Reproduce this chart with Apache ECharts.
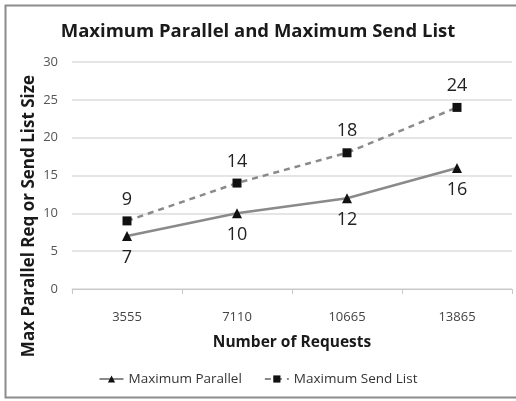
<!DOCTYPE html>
<html>
<head>
<meta charset="utf-8">
<script src="https://cdn.jsdelivr.net/npm/echarts@6/dist/echarts.min.js"></script>
<style>
  html, body { margin: 0; padding: 0; background: #fff; }
  #chart { width: 516px; height: 401px; }
</style>
</head>
<body>
<div id="chart"></div>
<script>
// Request counts on the x axis and the two measured series
const categories = ['3555', '7110', '10665', '13865'];
const maxParallel = [7, 10, 12, 16];
const maxSendList = [9, 14, 18, 24];
const yTicks = { min: 0, max: 30, interval: 5 };

const FONT = '"Open Sans", "Liberation Sans", sans-serif';

const chart = echarts.init(document.getElementById('chart'), null, { renderer: 'canvas' });

chart.setOption({
  backgroundColor: '#fff',
  animation: false,
  title: {
    text: 'Maximum Parallel and Maximum Send List',
    left: 'center',
    top: 17,
    textStyle: { fontFamily: FONT, fontSize: 18.5, fontWeight: 'bold', color: '#1a1a1a' }
  },
  graphic: [
    {
      type: 'rect',
      shape: { x: 5.5, y: 5.5, width: 520, height: 392 },
      style: { fill: 'none', stroke: '#8c8c8c', lineWidth: 2 },
      silent: true
    },
    {
      // vertical axis title, placed by hand so it can sit below the plot centre
      type: 'text',
      x: 29,
      y: 216,
      rotation: Math.PI / 2,
      style: {
        text: 'Max Parallel Req or Send List Size',
        fontFamily: FONT,
        fontSize: 17,
        fontWeight: 'bold',
        fill: '#1a1a1a',
        align: 'center',
        verticalAlign: 'middle'
      },
      silent: true
    }
  ],
  legend: {
    bottom: 10,
    left: 'center',
    itemGap: 22,
    itemWidth: 24,
    itemHeight: 9,
    textStyle: { fontFamily: FONT, fontSize: 13.5, color: '#333' },
    data: ['Maximum Parallel', 'Maximum Send List']
  },
  grid: { left: 72, right: 4, top: 62, bottom: 112, containLabel: false },
  xAxis: {
    type: 'category',
    data: categories,
    boundaryGap: true,
    name: 'Number of Requests',
    nameLocation: 'middle',
    nameGap: 46,
    nameTextStyle: { fontFamily: FONT, fontSize: 15.5, fontWeight: 'bold', color: '#1a1a1a' },
    axisLine: { lineStyle: { color: '#c8c8c8', width: 1 } },
    axisTick: { show: true, length: 5, lineStyle: { color: '#c8c8c8' } },
    axisLabel: { fontFamily: FONT, fontSize: 13, color: '#444', margin: 22 }
  },
  yAxis: {
    type: 'value',
    min: yTicks.min,
    max: yTicks.max,
    interval: yTicks.interval,
    axisLine: { show: false },
    axisTick: { show: false },
    axisLabel: { fontFamily: FONT, fontSize: 13, color: '#555', margin: 14 },
    splitLine: { lineStyle: { color: '#dcdcdc', width: 1.5 } }
  },
  series: [
    {
      name: 'Maximum Parallel',
      type: 'line',
      data: maxParallel,
      symbol: 'triangle',
      symbolSize: 10,
      itemStyle: { color: '#111' },
      lineStyle: { color: '#8a8a8a', width: 2.5, type: 'solid' },
      label: {
        show: true,
        position: 'bottom',
        distance: 8,
        fontFamily: FONT,
        fontSize: 18,
        color: '#222'
      }
    },
    {
      name: 'Maximum Send List',
      type: 'line',
      data: maxSendList,
      symbol: 'rect',
      symbolSize: 9,
      itemStyle: { color: '#111' },
      lineStyle: { color: '#8a8a8a', width: 2.5, type: [6, 5] },
      label: {
        show: true,
        position: 'top',
        distance: 8,
        fontFamily: FONT,
        fontSize: 18,
        color: '#222'
      }
    }
  ]
});
</script>
</body>
</html>
